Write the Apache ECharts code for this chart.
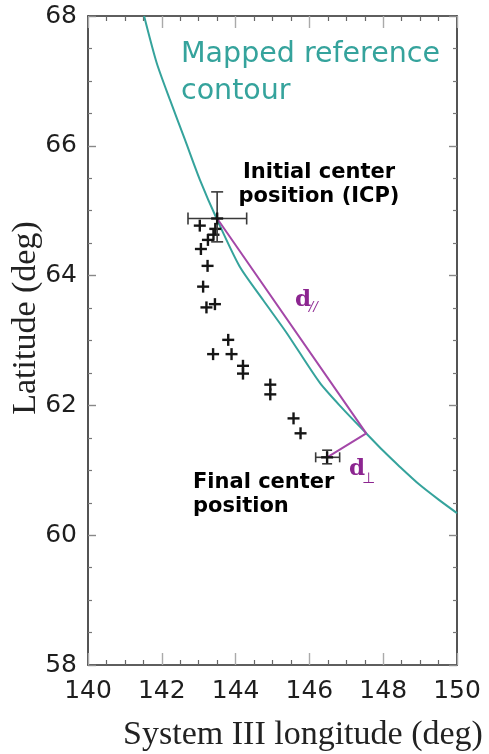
<!DOCTYPE html>
<html>
<head>
<meta charset="utf-8">
<script src="https://cdn.jsdelivr.net/npm/echarts@6/dist/echarts.min.js"></script>
<style>
  html, body { margin: 0; padding: 0; background: #ffffff; }
  #chart { width: 489px; height: 754px; }
</style>
</head>
<body>
<div id="chart"></div>
<script>
// Mapped reference contour (System III longitude / latitude, deg)
const contourLon = [141.52, 141.86, 142.22, 142.63, 143.03, 143.50, 144.11, 144.75, 145.38, 146.28, 146.90, 147.54, 148.00, 148.44, 148.98, 149.52, 150.00];
const contourLat = [68.00, 67.28, 66.71, 66.09, 65.48, 64.86, 64.14, 63.62, 63.12, 62.35, 61.95, 61.57, 61.30, 61.06, 60.78, 60.54, 60.34];

// Successive center positions
const crossLon = [143.03, 143.45, 143.40, 143.25, 143.06, 143.24, 143.12, 143.21, 143.44, 143.80, 143.39, 143.89, 144.20, 144.20, 144.94, 144.94, 145.57, 145.76];
const crossLat = [64.77, 64.72, 64.63, 64.55, 64.41, 64.15, 63.83, 63.51, 63.56, 63.01, 62.79, 62.79, 62.61, 62.49, 62.32, 62.17, 61.80, 61.57];

// Initial center position (ICP) with uncertainty
const icpLon = 143.50, icpLat = 64.88;
const icpLonRange = [142.71, 144.30];
const icpLatRange = [64.52, 65.29];

// Final center position with uncertainty
const finalLon = 146.48, finalLat = 61.20;
const finalLonRange = [146.17, 146.82];
const finalLatRange = [61.10, 61.31];

// Foot point on the contour used for d// and d_perp
const footLon = 147.54, footLat = 61.57;

// Axis tick values
const lonTicks = [140, 142, 144, 146, 148, 150];
const latTicks = [58, 60, 62, 64, 66, 68];

const TEAL = '#35a39c';
const PURPLE_LINE = '#a447a8';
const PURPLE_TEXT = '#8c2590';

const contourData = contourLon.map((v, i) => [v, contourLat[i]]);
const crossData = crossLon.map((v, i) => [v, crossLat[i]]);
const errData = [
  [icpLon, icpLat, icpLonRange[0], icpLonRange[1], icpLatRange[0], icpLatRange[1], 6],
  [finalLon, finalLat, finalLonRange[0], finalLonRange[1], finalLatRange[0], finalLatRange[1], 5]
];

function makeAxis(common, extra) {
  return Object.assign({}, common, extra);
}

const xCommon = {
  type: 'value', min: lonTicks[0], max: lonTicks[lonTicks.length - 1], interval: 2,
  axisLine: { show: true, onZero: false, lineStyle: { color: '#2a2a2a', width: 1.6 } },
  axisTick: { show: true, inside: true, length: 12, lineStyle: { color: '#aaaaaa', width: 1.4 } },
  minorTick: { show: true, splitNumber: 4, length: 5, lineStyle: { color: '#666666', width: 1.2 } },
  splitLine: { show: false }
};
const yCommon = {
  type: 'value', min: latTicks[0], max: latTicks[latTicks.length - 1], interval: 2,
  axisLine: { show: true, onZero: false, lineStyle: { color: '#2a2a2a', width: 1.6 } },
  axisTick: { show: true, inside: true, length: 8, lineStyle: { color: '#888888', width: 1.4 } },
  minorTick: { show: true, splitNumber: 4, length: 4, lineStyle: { color: '#777777', width: 1.2 } },
  splitLine: { show: false }
};
const tickFont = { fontFamily: 'DejaVu Sans', fontSize: 25, color: '#1e1e1e' };

const chart = echarts.init(document.getElementById('chart'), null, { renderer: 'canvas' });

chart.setOption({
  animation: false,
  backgroundColor: '#ffffff',
  grid: { left: 88, right: 32, top: 16, bottom: 89, containLabel: false },
  xAxis: [
    makeAxis(xCommon, { position: 'bottom', axisLabel: Object.assign({ margin: 14 }, tickFont) }),
    makeAxis(xCommon, { position: 'top', axisLabel: { show: false } })
  ],
  yAxis: [
    makeAxis(yCommon, { position: 'left', axisLabel: Object.assign({ margin: 11 }, tickFont) }),
    makeAxis(yCommon, { position: 'right', axisLabel: { show: false } })
  ],
  series: [
    {
      name: 'contour', type: 'line', data: contourData, showSymbol: false, smooth: 0.25,
      lineStyle: { color: TEAL, width: 2 }, clip: true, z: 2
    },
    {
      name: 'distances', type: 'line',
      data: [[icpLon, icpLat], [footLon, footLat], [finalLon, finalLat]],
      showSymbol: false, lineStyle: { color: PURPLE_LINE, width: 2 }, z: 3
    },
    {
      name: 'centers', type: 'custom', data: crossData, z: 4,
      renderItem: function (params, api) {
        const p = api.coord([api.value(0), api.value(1)]);
        const h = 6;
        const st = { stroke: '#151515', lineWidth: 2.4 };
        return {
          type: 'group', children: [
            { type: 'line', shape: { x1: p[0] - h, y1: p[1], x2: p[0] + h, y2: p[1] }, style: st },
            { type: 'line', shape: { x1: p[0], y1: p[1] - h, x2: p[0], y2: p[1] + h }, style: st }
          ]
        };
      }
    },
    {
      name: 'errors', type: 'custom', data: errData, z: 5,
      renderItem: function (params, api) {
        const c = api.coord([api.value(0), api.value(1)]);
        const xl = api.coord([api.value(2), api.value(1)]);
        const xr = api.coord([api.value(3), api.value(1)]);
        const yb = api.coord([api.value(0), api.value(4)]);
        const yt = api.coord([api.value(0), api.value(5)]);
        const cap = api.value(6);
        const st = { stroke: '#3a3a3a', lineWidth: 1.6 };
        const pst = { stroke: '#151515', lineWidth: 2.4 };
        const L = (x1, y1, x2, y2, s) => ({ type: 'line', shape: { x1, y1, x2, y2 }, style: s });
        return {
          type: 'group', children: [
            L(xl[0], c[1], xr[0], c[1], st),
            L(xl[0], c[1] - cap, xl[0], c[1] + cap, st),
            L(xr[0], c[1] - cap, xr[0], c[1] + cap, st),
            L(c[0], yb[1], c[0], yt[1], st),
            L(c[0] - cap, yb[1], c[0] + cap, yb[1], st),
            L(c[0] - cap, yt[1], c[0] + cap, yt[1], st),
            L(c[0] - 6, c[1], c[0] + 6, c[1], pst),
            L(c[0], c[1] - 6, c[0], c[1] + 6, pst)
          ]
        };
      }
    }
  ],
  graphic: [
    {
      type: 'text', left: 181, top: 36,
      style: { text: 'Mapped reference\ncontour', fill: TEAL, font: '28.5px "DejaVu Sans"', lineHeight: 37 }
    },
    {
      type: 'text', x: 319, y: 185,
      style: { text: 'Initial center\nposition (ICP)', fill: '#000000', font: 'bold 21px "DejaVu Sans"', lineHeight: 24, align: 'center', verticalAlign: 'middle' }
    },
    {
      type: 'text', x: 193, y: 495,
      style: { text: 'Final center\nposition', fill: '#000000', font: 'bold 21px "DejaVu Sans"', lineHeight: 24, align: 'left', verticalAlign: 'middle' }
    },
    {
      type: 'text', x: 295, y: 300,
      style: { text: 'd', fill: PURPLE_TEXT, font: 'bold 23px "DejaVu Serif"', align: 'left', verticalAlign: 'middle' }
    },
    {
      type: 'text', x: 309, y: 308,
      style: { text: '//', fill: PURPLE_TEXT, font: 'italic 13px "DejaVu Serif"', align: 'left', verticalAlign: 'middle' }
    },
    {
      type: 'text', x: 349, y: 469,
      style: { text: 'd', fill: PURPLE_TEXT, font: 'bold 23px "DejaVu Serif"', align: 'left', verticalAlign: 'middle' }
    },
    {
      type: 'text', x: 362, y: 479,
      style: { text: '\u22A5', fill: PURPLE_TEXT, font: '15px "DejaVu Sans"', align: 'left', verticalAlign: 'middle' }
    },
    {
      type: 'text', x: 303, y: 735,
      style: { text: 'System III longitude (deg)', fill: '#222222', font: '34px "Liberation Serif"', align: 'center', verticalAlign: 'middle' }
    },
    {
      type: 'text', x: 26, y: 318, rotation: Math.PI / 2,
      style: { text: 'Latitude (deg)', fill: '#222222', font: '34px "Liberation Serif"', align: 'center', verticalAlign: 'middle' }
    }
  ]
});
</script>
</body>
</html>
